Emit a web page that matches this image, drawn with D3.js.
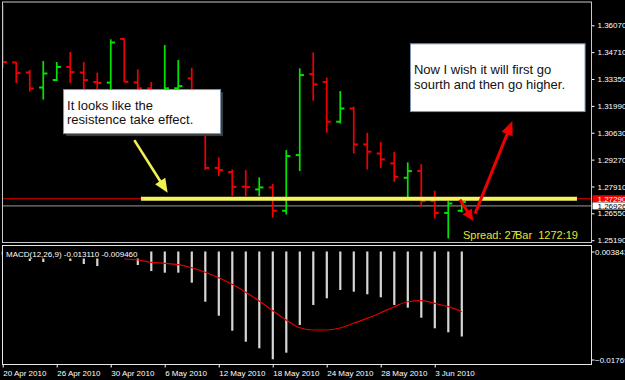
<!DOCTYPE html>
<html>
<head>
<meta charset="utf-8">
<script src="https://cdn.jsdelivr.net/npm/d3@7"></script>
<style>
  body { margin: 0; background: #000; }
  svg { display: block; }
</style>
</head>
<body>
<svg id="chart"></svg>
<script>
// daily EURUSD bars, 20 Apr .. 7 Jun 2010
const days = [
  '20 Apr 2010', '21 Apr 2010', '22 Apr 2010', '23 Apr 2010',
  '26 Apr 2010', '27 Apr 2010', '28 Apr 2010', '29 Apr 2010', '30 Apr 2010',
  '3 May 2010', '4 May 2010', '5 May 2010', '6 May 2010', '7 May 2010',
  '10 May 2010', '11 May 2010', '12 May 2010', '13 May 2010', '14 May 2010',
  '17 May 2010', '18 May 2010', '19 May 2010', '20 May 2010', '21 May 2010',
  '24 May 2010', '25 May 2010', '26 May 2010', '27 May 2010', '28 May 2010',
  '31 May 2010', '1 Jun 2010', '2 Jun 2010', '3 Jun 2010', '4 Jun 2010',
  '7 Jun 2010'
];
const opens  = [1.3520, 1.3419, 1.3368, 1.3292, 1.3330, 1.3396, 1.3368, 1.3320, 1.3317, 1.3538,
                1.3318, 1.3288, 1.3240, 1.3288, 1.3338, 1.3140, 1.2885, 1.2864, 1.2790, 1.2776,
                1.2786, 1.2668, 1.2950, 1.3360, 1.3320, 1.3119, 1.3186, 1.3004, 1.2958, 1.2908,
                1.2835, 1.2869, 1.2717, 1.2657, 1.2668];
const highs  = [1.3710, 1.3421, 1.3381, 1.3426, 1.3421, 1.3472, 1.3421, 1.3367, 1.3536, 1.3541,
                1.3384, 1.3320, 1.3507, 1.3431, 1.3392, 1.3160, 1.2938, 1.2877, 1.2874, 1.2837,
                1.2803, 1.2975, 1.3389, 1.3470, 1.3342, 1.3274, 1.3195, 1.3063, 1.3016, 1.2965,
                1.2913, 1.2904, 1.2769, 1.2717, 1.2717];
const lows   = [1.3391, 1.3315, 1.3272, 1.3231, 1.3325, 1.3315, 1.3272, 1.3254, 1.3254, 1.3320,
                1.3284, 1.3210, 1.3220, 1.3265, 1.3120, 1.2874, 1.2843, 1.2742, 1.2742, 1.2742,
                1.2633, 1.2649, 1.2869, 1.3225, 1.3063, 1.3110, 1.2958, 1.2877, 1.2885, 1.2815,
                1.2737, 1.2688, 1.2629, 1.2528, 1.2660];
const closes = [1.3421, 1.3365, 1.3287, 1.3363, 1.3396, 1.3370, 1.3330, 1.3315, 1.3520, 1.3321,
                1.3288, 1.3240, 1.3288, 1.3299, 1.3140, 1.2885, 1.2874, 1.2789, 1.2788, 1.2786,
                1.2668, 1.2945, 1.3355, 1.3308, 1.3119, 1.3186, 1.3004, 1.2967, 1.2928, 1.2840,
                1.2869, 1.2717, 1.2657, 1.2705, 1.2712];

// MACD(12,26,9) main (histogram) and signal
const macdMain = [0.00315, 0.00315, 0.00195, 0.00175, 0.00315, 0.00195, 0.00135, 0.00095, 0.00315, 0.00315,
                  0.00115, -0.00005, -0.00038, -0.00038, -0.00238, -0.00617, -0.00896, -0.01195, -0.01414, -0.01546,
                  -0.01765, -0.01633, -0.01081, -0.00682, -0.00549, -0.00383, -0.00417, -0.00469, -0.00529, -0.00682,
                  -0.00736, -0.00936, -0.01147, -0.01227, -0.01311];
const macdSignal = [null, null, null, null, null, null, null, null, null, 0.00235,
                    0.00215, 0.00169, 0.00149, 0.00121, 0.00061, -0.00030, -0.00138, -0.00270, -0.00429, -0.00603,
                    -0.00796, -0.00981, -0.01135, -0.01181, -0.01181, -0.01141, -0.01047, -0.00948, -0.00836, -0.00716,
                    -0.00617, -0.00597, -0.00649, -0.00716, -0.00816];

const priceTicks = [1.36070, 1.34710, 1.33350, 1.31990, 1.30630, 1.29270, 1.27910, 1.26550, 1.25190];
const macdTicks = [0.003843, -0.01769];
const dateTicks = [0, 4, 8, 12, 16, 20, 24, 28, 32];
const bid = 1.27290, ask = 1.26926;

const width = 625, height = 380;
const svg = d3.select('#chart').attr('width', width).attr('height', height)
  .style('background', '#000')
  .style('font-family', '"Liberation Sans", Arial, sans-serif');

const left = 2.5, right = 591.5;
const mainTop = 2, mainBottom = 242.5, macdTop = 245.5, macdBottom = 364.5;

const x = d3.scaleLinear().domain([0, 34]).range([2.7, 461.7]);
const y = d3.scaleLinear().domain([1.25190, 1.36070]).range([240.2, 25.3]);
const ym = d3.scaleLinear().domain([-0.01769, 0.003843]).range([359.5, 251.5]);

const bars = d3.range(days.length).map(i => ({
  i, o: opens[i], h: highs[i], l: lows[i], c: closes[i]
}));

// ---------- main window ----------
svg.append('clipPath').attr('id', 'mainClip')
  .append('rect').attr('x', 3).attr('y', mainTop + 0.5).attr('width', right - 3).attr('height', mainBottom - mainTop - 1);
const main = svg.append('g').attr('clip-path', 'url(#mainClip)');

// bid / ask lines
main.append('line').attr('x1', left).attr('x2', right)
  .attr('y1', y(ask)).attr('y2', y(ask)).attr('stroke', '#9a9a9a').attr('stroke-width', 1);
main.append('line').attr('x1', left).attr('x2', right)
  .attr('y1', y(bid)).attr('y2', y(bid)).attr('stroke', '#e00000').attr('stroke-width', 1);

// OHLC bars
const bar = main.selectAll('g.bar').data(bars).join('g').attr('class', 'bar')
  .attr('fill', d => d.c >= d.o ? '#00e600' : '#f00000');
bar.append('rect').attr('x', d => x(d.i) - 0.8).attr('width', 1.7)
  .attr('y', d => y(d.h)).attr('height', d => y(d.l) - y(d.h));
bar.append('rect').attr('x', d => x(d.i) - 4).attr('width', 4)
  .attr('y', d => y(d.o) - 1).attr('height', 2);
bar.append('rect').attr('x', d => x(d.i)).attr('width', 4.2)
  .attr('y', d => y(d.c) - 1).attr('height', 2);

// support/resistance line
main.append('line').attr('x1', x(10.24)).attr('x2', x(42.54))
  .attr('y1', y(1.2729)).attr('y2', y(1.2729))
  .attr('stroke', '#f6f45c').attr('stroke-width', 4);

function arrow(g, p1, p2, color, w, headLen, headW) {
  const x1 = x(p1[0]), y1 = y(p1[1]), x2 = x(p2[0]), y2 = y(p2[1]);
  const a = Math.atan2(y2 - y1, x2 - x1), ca = Math.cos(a), sa = Math.sin(a);
  const bx = x2 - headLen * ca, by = y2 - headLen * sa;
  g.append('line').attr('x1', x1).attr('y1', y1).attr('x2', bx + 2 * ca).attr('y2', by + 2 * sa)
    .attr('stroke', color).attr('stroke-width', w);
  g.append('path')
    .attr('d', `M${x2},${y2}L${bx - headW * sa},${by + headW * ca}L${bx + headW * sa},${by - headW * ca}Z`)
    .attr('fill', color);
}
arrow(main, [9.75, 1.30258], [12.22, 1.27588], '#f0f050', 2.6, 14, 6);
arrow(main, [33.87, 1.27243], [34.84, 1.26179], '#f00000', 3, 11, 5.5);
arrow(main, [34.99, 1.26534], [37.75, 1.31221], '#f00000', 3, 14, 6);

// text boxes
function note(g, x0, x1, p0, p1, lines, shadow) {
  const bx = x(x0), by = y(p0), bw = x(x1) - x(x0), bh = y(p1) - y(p0);
  if (shadow) {
    g.append('rect').attr('x', bx + 3).attr('y', by + 3).attr('width', bw).attr('height', bh)
      .attr('fill', '#3a3a3a');
  }
  g.append('rect').attr('x', bx + 0.5).attr('y', by + 0.5).attr('width', bw).attr('height', bh)
    .attr('fill', '#fff').attr('stroke', '#7f95b5').attr('stroke-width', 1);
  g.selectAll(null).data(lines).join('text')
    .attr('x', bx + 4).attr('y', d => by + d.dy)
    .attr('font-size', 13).attr('fill', '#111').text(d => d.t);
}
note(main, 4.47, 16.1, 1.32842, 1.30613,
  [{ t: 'It looks like the', dy: 20.5 }, { t: 'resistence take effect.', dy: 34.5 }], true);
note(main, 30.17, 43.1, 1.35158, 1.31728,
  [{ t: 'Now I wish it will first go', dy: 30.7 }, { t: 'sourth and then go higher.', dy: 46 }], false);

// chart comment
main.append('text').attr('x', 463).attr('y', 239).attr('font-size', 11).attr('fill', '#e6e62a')
  .text('Spread: 27');
main.append('text').attr('x', 515).attr('y', 239).attr('font-size', 11).attr('fill', '#e6e62a')
  .style('white-space', 'pre').text('Bar  1272:19');

// price axis
const yAxis = svg.append('g').attr('transform', `translate(${right},0)`)
  .call(d3.axisRight(y).tickValues(priceTicks).tickSize(3).tickFormat(d3.format('.5f')));
yAxis.select('.domain').remove();
yAxis.selectAll('line').attr('stroke', '#fff');
yAxis.selectAll('text').attr('fill', '#fff').attr('font-size', 8).attr('font-family', null);

// price tags
const tags = [
  { p: bid, bg: '#f00000', fg: '#fff' },
  { p: ask, bg: '#fff', fg: '#000' }
];
const tag = svg.selectAll('g.tag').data(tags).join('g').attr('class', 'tag');
tag.append('rect').attr('x', right + 1).attr('y', d => y(d.p) - 3.5).attr('width', 40).attr('height', 7)
  .attr('fill', d => d.bg);
tag.append('text').attr('x', right + 6).attr('y', d => y(d.p) + 3)
  .attr('font-size', 8).attr('fill', d => d.fg).text(d => d3.format('.5f')(d.p));

// ---------- MACD window ----------
const macd = svg.append('g');
macd.selectAll('rect.hist').data(macdMain).join('rect').attr('class', 'hist')
  .attr('x', (d, i) => x(i) - 1).attr('width', 2.2)
  .attr('y', ym(ym.domain()[1])).attr('height', d => ym(d) - ym(ym.domain()[1]))
  .attr('fill', '#d6d6d6');

// label with its own background
macd.append('rect').attr('x', 3).attr('y', macdTop + 0.5).attr('width', 137).attr('height', 12.5).attr('fill', '#000');
macd.append('path')
  .datum(macdSignal)
  .attr('fill', 'none').attr('stroke', '#e00000').attr('stroke-width', 1.2)
  .attr('d', d3.line().defined(d => d != null).x((d, i) => x(i)).y(d => ym(d)).curve(d3.curveMonotoneX));
macd.append('text').attr('x', 6).attr('y', 257).attr('font-size', 8).attr('fill', '#fff')
  .text('MACD(12,26,9) -0.013110 -0.009460');

const mAxis = svg.append('g').attr('transform', `translate(${right},0)`)
  .call(d3.axisRight(ym).tickValues(macdTicks).tickSize(3).tickFormat(d3.format('.6f')));
mAxis.select('.domain').remove();
mAxis.selectAll('line').attr('stroke', '#fff');
mAxis.selectAll('text').attr('fill', '#fff').attr('font-size', 8).attr('font-family', null).attr('x', 3.5);

// date axis
const xAxis = svg.append('g').attr('transform', `translate(0,${macdBottom})`)
  .call(d3.axisBottom(x).tickValues(dateTicks).tickSize(3).tickFormat(i => days[i]));
xAxis.select('.domain').remove();
xAxis.selectAll('line').attr('stroke', '#fff');
xAxis.selectAll('text').attr('fill', '#fff').attr('font-size', 8).attr('font-family', null)
  .attr('text-anchor', 'start').attr('x', 0);

// window frames
svg.append('rect').attr('x', left).attr('y', mainTop).attr('width', right - left).attr('height', mainBottom - mainTop)
  .attr('fill', 'none').attr('stroke', '#c8c8c8').attr('stroke-width', 1);
svg.append('rect').attr('x', left).attr('y', macdTop).attr('width', right - left).attr('height', macdBottom - macdTop)
  .attr('fill', 'none').attr('stroke', '#e6e6e6').attr('stroke-width', 1);
</script>
</body>
</html>
